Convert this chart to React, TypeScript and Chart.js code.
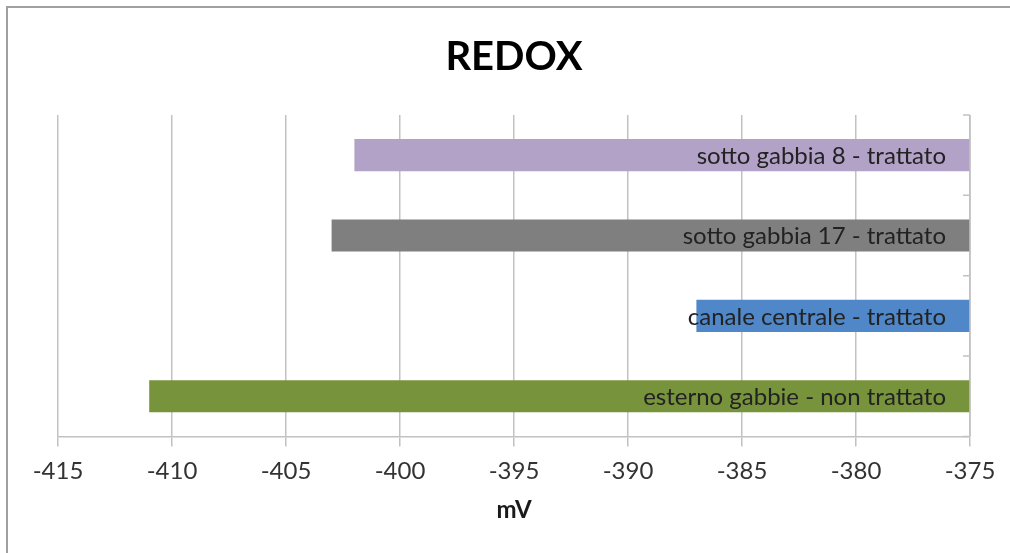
import React, { useEffect, useRef } from "react";
import { Chart, registerables } from "chart.js";

Chart.register(...registerables);

// Sampling sites and their redox potential (mV)
const categories = [
  "sotto gabbia 8 - trattato",
  "sotto gabbia 17 - trattato",
  "canale centrale - trattato",
  "esterno gabbie - non trattato",
];
const redoxValues = [-402, -403, -387, -411];
const barColors = ["#b3a2c7", "#7f7f7f", "#4f87c8", "#77933c"];

// Axis range: the bars grow leftwards from the right end of the axis
const axisMin = -415;
const axisMax = -375;
const axisStep = 5;

const GRID = "#c2c2c2";
const FONT = "Lato, 'Open Sans', sans-serif";

// Right-hand category axis with inward ticks at category boundaries
const categoryAxisPlugin = {
  id: "categoryAxis",
  afterDatasetsDraw(chart: any) {
    const { ctx } = chart;
    const x = chart.scales.x.getPixelForValue(axisMax);
    const y = chart.scales.y;
    ctx.save();
    ctx.strokeStyle = GRID;
    ctx.lineWidth = 1.5;
    ctx.beginPath();
    ctx.moveTo(x, y.top);
    ctx.lineTo(x, y.bottom);
    for (let i = 0; i <= categories.length; i++) {
      const py = y.getPixelForValue(i - 0.5);
      ctx.moveTo(x - 7, py);
      ctx.lineTo(x, py);
    }
    ctx.stroke();
    ctx.restore();
  },
};

// Category names written inside each bar, right-aligned
const barLabelPlugin = {
  id: "barLabels",
  afterDatasetsDraw(chart: any) {
    const { ctx } = chart;
    const meta = chart.getDatasetMeta(0);
    const xr = chart.scales.x.getPixelForValue(axisMax) - 24;
    ctx.save();
    ctx.font = `24px ${FONT}`;
    ctx.fillStyle = "#222222";
    ctx.textAlign = "right";
    ctx.textBaseline = "middle";
    meta.data.forEach((bar: any, i: number) => {
      ctx.fillText(categories[i], xr, bar.y + 1);
    });
    ctx.restore();
  },
};

export default function App() {
  const canvasRef = useRef<HTMLCanvasElement>(null);

  useEffect(() => {
    if (!canvasRef.current) return;
    const chart = new Chart(canvasRef.current, {
      type: "bar",
      data: {
        labels: categories,
        datasets: [
          {
            data: redoxValues.map((v) => [v, axisMax]) as any,
            backgroundColor: barColors,
            borderWidth: 0,
            barPercentage: 0.4,
            categoryPercentage: 1,
          },
        ],
      },
      options: {
        indexAxis: "y",
        animation: false,
        responsive: true,
        maintainAspectRatio: false,
        layout: { padding: { top: 0, left: 58, right: 40, bottom: 24 } },
        plugins: {
          legend: { display: false },
          tooltip: { enabled: false },
          title: {
            display: true,
            text: "REDOX",
            color: "#000000",
            font: { family: FONT, size: 40, weight: "bold" },
            padding: { top: 33, bottom: 34 },
          },
        },
        scales: {
          x: {
            type: "linear",
            position: "bottom",
            min: axisMin,
            max: axisMax,
            ticks: {
              stepSize: axisStep,
              color: "#333333",
              font: { family: FONT, size: 24 },
              padding: 10,
            },
            grid: {
              color: GRID,
              lineWidth: 1.5,
              tickLength: 10,
              tickColor: GRID,
            },
            border: { color: GRID, width: 1.5 },
            title: {
              display: true,
              text: "mV",
              color: "#1a1a1a",
              font: { family: FONT, size: 24, weight: "bold" },
              padding: { top: 1, bottom: 4 },
            },
          },
          y: {
            type: "category",
            display: false,
          },
        },
      },
      plugins: [categoryAxisPlugin, barLabelPlugin],
    });
    return () => chart.destroy();
  }, []);

  return (
    <div
      style={{
        position: "absolute",
        left: 0,
        top: 0,
        width: 1010,
        height: 553,
        overflow: "hidden",
        background: "#ffffff",
      }}
    >
      <div
        style={{
          position: "absolute",
          left: 6,
          top: 6,
          width: 1100,
          height: 700,
          borderLeft: "2px solid #a0a0a0",
          borderTop: "2px solid #a0a0a0",
        }}
      />
      <div style={{ position: "absolute", left: 0, top: 0, width: 1010, height: 553 }}>
        <canvas ref={canvasRef} />
      </div>
    </div>
  );
}
